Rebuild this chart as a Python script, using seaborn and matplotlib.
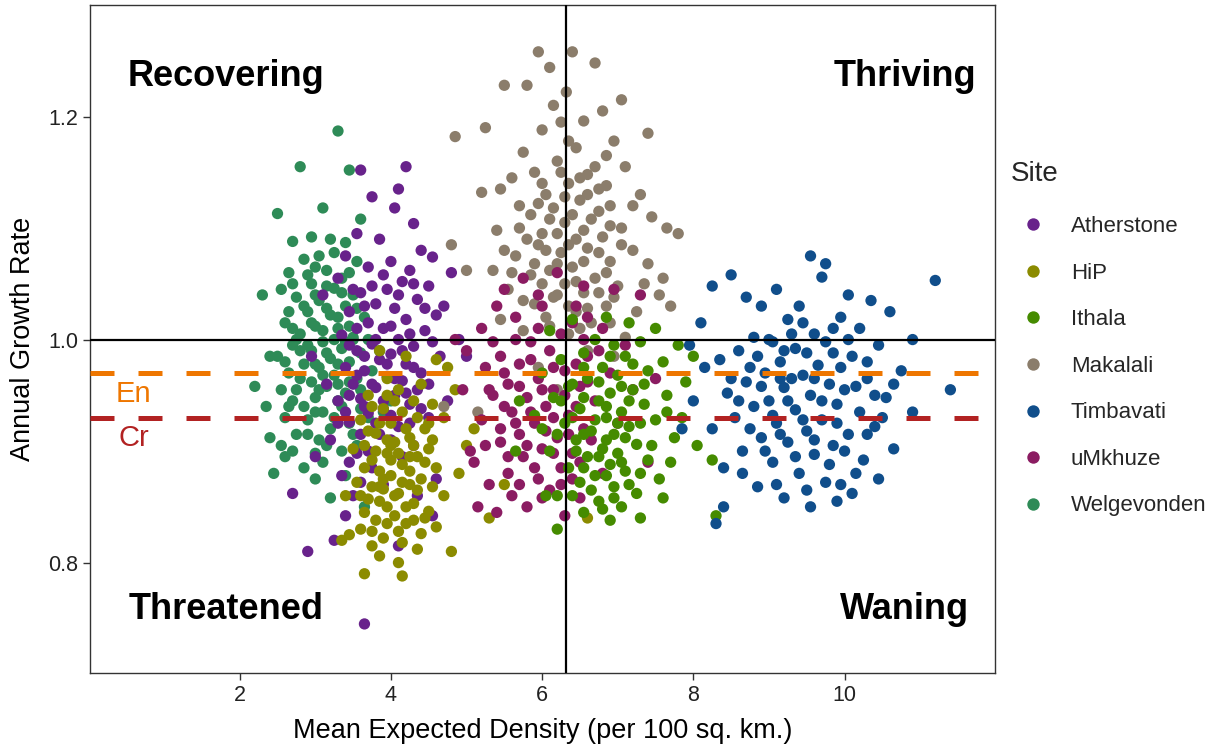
import matplotlib
matplotlib.use("Agg")
import matplotlib.pyplot as plt
import seaborn as sns
import pandas as pd

# ---------------- data ----------------
sites = ["Atherstone", "HiP", "Ithala", "Makalali", "Timbavati", "uMkhuze", "Welgevonden"]
site_colors = ["#68228B", "#8B8B00", "#458B00", "#8B7D6B", "#104E8B", "#8B1C62", "#2E8B57"]

welgevonden_pts = [(3.30,1.187),(2.80,1.155),(3.45,1.152),(2.50,1.113),(3.10,1.118),(3.60,1.108),(2.70,1.088),(2.95,1.092),(3.20,1.090),(3.40,1.087),(3.05,1.075),(2.85,1.072),(3.55,1.070),(2.65,1.060),(3.15,1.062),(3.35,1.055),(2.95,1.050),(3.25,1.046),(2.55,1.045),(3.50,1.040),(2.75,1.038),(3.05,1.035),(3.40,1.030),(2.90,1.025),(3.20,1.022),(3.65,1.020),(2.60,1.015),(3.00,1.012),(3.30,1.010),(2.80,1.005),(3.50,1.002),(3.10,0.998),(2.70,0.995),(3.35,0.992),(2.95,0.990),(3.60,0.988),(2.50,0.985),(3.20,0.983),(3.45,0.980),(2.85,0.978),(3.05,0.975),(3.75,0.972),(2.65,0.970),(3.25,0.968),(3.55,0.965),(2.95,0.962),(3.15,0.958),(2.75,0.955),(3.40,0.952),(3.00,0.948),(2.20,0.958),(3.30,0.945),(2.85,0.940),(3.60,0.938),(3.10,0.935),(2.40,0.912),(2.55,0.905),(2.90,0.928),(3.45,0.925),(3.20,0.920),(3.70,0.930),(2.75,0.915),(3.05,0.910),(2.60,0.895),(2.85,0.885),(3.35,0.900),(2.45,0.880),(3.10,0.890),(3.55,0.905),(3.00,0.875),(3.20,0.858),(3.40,0.878),(3.90,0.935),(4.00,0.945),(2.30,1.040),(2.40,0.985),(3.65,0.850),(3.30,0.960),(3.50,1.000),(2.70,1.010),
                   (3.00,1.065),(3.25,1.078),(2.90,1.058),(3.45,1.060),(3.15,1.048),(2.70,1.050),(3.35,1.042),(3.00,1.040),(2.85,1.030),(3.55,1.028),(3.15,1.028),(2.65,1.025),(3.30,1.020),(2.95,1.015),(3.45,1.012),(3.10,1.008),(2.75,1.000),(3.25,1.000),(3.40,0.998),(2.90,0.995),(3.15,0.988),(2.60,0.980),(3.30,0.978),(3.00,0.978),(2.80,0.965),(3.45,0.962),(3.10,0.968),(2.70,0.945),(3.35,0.940),(3.00,0.935),(2.60,0.930),(3.25,0.930),(2.90,0.915),(3.50,0.915),(3.15,0.905),(2.70,0.900),(3.00,0.898),(2.35,0.940),(2.55,0.955),(3.60,0.955),(3.85,0.990),(3.70,1.000),(2.65,0.940),(3.05,0.955),(2.80,0.990)]

atherstone_pts = [(3.60,1.152),(4.20,1.155),(3.75,1.128),(4.10,1.135),(4.05,1.118),(4.30,1.104),(4.80,1.060),(4.55,1.074),(3.55,1.095),(3.85,1.090),(4.40,1.080),(3.40,1.075),(4.00,1.070),(4.25,1.062),(3.70,1.065),(3.30,1.055),(4.15,1.052),(3.95,1.045),(4.50,1.048),(3.60,1.042),(4.35,1.036),(3.80,1.032),(4.05,1.028),(3.45,1.025),(4.60,1.022),(4.20,1.018),(3.70,1.015),(3.90,1.010),(4.45,1.008),(3.35,1.004),(4.10,1.000),(3.75,0.996),(4.30,0.994),(3.55,0.990),(4.00,0.987),(4.65,0.985),(3.85,0.982),(4.20,0.978),(3.40,0.975),(3.65,0.972),(4.40,0.970),(3.95,0.967),(4.15,0.963),(3.50,0.960),(3.80,0.957),(4.35,0.955),(4.05,0.950),(3.60,0.947),(3.30,0.945),(4.25,0.942),(3.90,0.938),(3.70,0.934),(4.50,0.930),(3.45,0.926),(4.10,0.922),(3.85,0.915),(3.20,0.910),(4.30,0.905),(3.55,0.898),(3.00,0.895),(3.75,0.885),(3.35,0.878),(4.60,0.875),(2.70,0.862),(3.50,0.860),(4.55,0.842),(3.25,0.820),(4.10,0.815),(2.90,0.810),(3.65,0.745),(4.90,1.000),(5.00,0.985),(4.75,0.945),(3.15,0.960),(2.95,0.985),(4.70,1.030),(3.10,1.040),
                  (3.50,1.045),(3.90,1.058),(4.30,1.050),(3.65,1.030),(4.10,1.040),(3.75,1.048),(4.45,1.028),(3.55,1.010),(4.00,1.012),(4.25,1.005),(3.80,1.000),(3.45,0.995),(4.55,0.998),(4.15,0.990),(3.65,0.985),(3.95,0.978),(4.30,0.975),(3.55,0.968),(4.05,0.965),(4.50,0.960),(3.75,0.960),(3.45,0.950),(4.20,0.952),(3.90,0.945),(3.65,0.940),(4.40,0.938),(4.00,0.932),(3.80,0.925),(4.25,0.925),(3.40,0.935),(3.60,0.915),(4.00,0.910),(3.30,0.925),(3.70,0.900),(4.15,0.895),(3.45,0.890),(3.90,0.870),(3.60,0.872),(4.35,0.860),(3.40,0.842)]

hip_pts = [(3.85,0.990),(4.20,0.985),(4.60,0.982),(4.75,0.975),(3.95,0.965),(4.40,0.960),(4.10,0.955),(3.70,0.950),(4.30,0.945),(4.55,0.942),(3.90,0.938),(4.15,0.935),(4.70,0.930),(3.60,0.928),(4.00,0.925),(4.45,0.920),(3.80,0.916),(4.25,0.912),(4.05,0.908),(3.65,0.905),(4.50,0.902),(3.95,0.898),(4.35,0.895),(3.75,0.892),(4.15,0.888),(4.60,0.885),(3.85,0.882),(4.00,0.878),(4.40,0.875),(3.55,0.872),(4.25,0.870),(3.90,0.866),(4.10,0.862),(4.70,0.860),(3.70,0.857),(4.30,0.853),(3.95,0.850),(4.50,0.846),(4.05,0.842),(3.80,0.838),(4.20,0.835),(3.60,0.830),(4.40,0.826),(3.45,0.825),(3.90,0.822),(4.15,0.818),(3.35,0.820),(3.75,0.815),(4.35,0.812),(3.85,0.806),(4.10,0.800),(3.65,0.790),(4.15,0.788),(4.60,0.832),(4.90,0.880),(5.00,0.905),(5.30,0.840),(5.50,0.870),(4.85,0.955),(3.50,0.902),(6.60,0.840),(5.10,0.920),(4.80,0.810),(3.40,0.860),
           (3.75,0.940),(4.05,0.945),(4.35,0.930),(3.85,0.925),(4.20,0.920),(4.55,0.910),(3.70,0.918),(3.95,0.910),(4.30,0.905),(4.10,0.898),(3.80,0.900),(4.45,0.890),(4.00,0.892),(3.65,0.885),(4.25,0.882),(3.90,0.875),(4.15,0.872),(4.55,0.868),(3.75,0.868),(4.05,0.860),(4.35,0.865),(3.85,0.855),(4.20,0.850),(3.65,0.845),(4.45,0.840),(3.95,0.835),(4.10,0.828),(3.75,0.828),(4.30,0.838),(3.85,0.868),(4.00,0.905),(4.25,0.895),(3.60,0.860),(4.50,0.925),(3.95,0.950)]

makalali_pts = [(5.95,1.258),(6.40,1.258),(6.10,1.244),(6.70,1.248),(5.50,1.228),(5.80,1.228),(6.32,1.222),(7.05,1.215),(6.15,1.210),(6.80,1.205),(5.25,1.190),(4.85,1.182),(6.55,1.196),(7.40,1.185),(6.00,1.188),(6.95,1.178),(6.45,1.172),(5.75,1.168),(6.85,1.165),(6.20,1.160),(5.90,1.150),(7.10,1.155),(6.60,1.148),(6.35,1.140),(5.60,1.145),(6.75,1.135),(6.05,1.130),(7.30,1.130),(5.45,1.135),(5.20,1.132),(6.50,1.125),(6.90,1.120),(6.15,1.118),(5.85,1.112),(6.65,1.108),(7.45,1.110),(6.30,1.105),(5.70,1.100),(7.05,1.100),(6.00,1.095),(6.80,1.092),(6.45,1.090),(5.40,1.098),(7.65,1.100),(7.80,1.095),(5.95,1.085),(6.60,1.082),(6.25,1.078),(7.20,1.080),(5.65,1.075),(6.90,1.070),(6.40,1.065),(6.10,1.062),(7.40,1.068),(5.85,1.058),(6.70,1.055),(6.30,1.050),(7.00,1.048),(5.55,1.045),(6.55,1.042),(6.15,1.038),(7.55,1.040),(5.90,1.032),(6.85,1.030),(6.45,1.025),(7.25,1.025),(6.05,1.020),(5.45,1.018),(6.65,1.015),(7.70,1.030),(6.35,1.005),(5.75,1.008),(7.10,1.002),(6.95,0.985),(5.95,0.975),(6.60,0.990),(5.00,1.062),(4.80,1.085),(5.35,1.062),(4.70,0.940),(5.15,0.935),(6.20,0.955),(7.60,1.055),(7.35,1.050),
                (6.00,1.140),(6.25,1.150),(6.50,1.145),(6.70,1.155),(5.95,1.122),(6.30,1.128),(6.60,1.130),(6.85,1.138),(6.10,1.108),(6.40,1.112),(6.75,1.115),(5.80,1.090),(6.20,1.095),(6.55,1.098),(6.90,1.102),(6.05,1.080),(6.35,1.085),(6.75,1.078),(7.05,1.085),(5.90,1.068),(6.20,1.068),(6.55,1.070),(6.85,1.060),(6.00,1.050),(6.45,1.052),(6.75,1.042),(6.20,1.040),(6.95,1.038),(5.75,1.035),(6.35,1.030),(6.60,1.028),(6.10,1.012),(6.50,1.010),(6.90,1.015),(5.60,1.060),(5.50,1.080),(6.25,1.195),(6.35,1.178),(5.70,1.120),(7.20,1.120)]

umkhuze_pts = [(4.85,1.000),(5.00,0.990),(5.20,1.010),(5.50,1.045),(5.35,0.998),(5.75,1.055),(6.20,1.060),(6.55,1.048),(6.95,1.045),(7.30,1.040),(6.00,1.030),(5.65,1.020),(6.40,1.015),(6.80,1.010),(7.10,0.995),(5.85,0.998),(5.45,0.985),(6.10,0.990),(6.60,0.985),(5.25,0.975),(5.70,0.978),(6.30,0.972),(6.90,0.970),(5.95,0.965),(5.55,0.960),(6.50,0.958),(6.15,0.955),(5.35,0.950),(5.80,0.948),(6.70,0.945),(6.05,0.940),(5.60,0.935),(6.35,0.932),(5.20,0.928),(5.90,0.925),(6.55,0.920),(7.00,0.925),(5.70,0.915),(6.20,0.912),(5.45,0.908),(6.00,0.902),(6.40,0.898),(5.75,0.895),(5.10,0.890),(6.25,0.885),(5.55,0.880),(5.95,0.875),(6.80,0.880),(5.30,0.870),(6.10,0.865),(5.60,0.860),(7.40,0.890),(6.50,0.858),(5.80,0.850),(6.30,0.842),(5.40,0.845),(5.05,0.900),(6.65,0.910),(7.20,0.955),(7.50,0.965),(4.95,0.955),(5.15,0.850),(6.75,0.990),(6.45,1.030),
               (5.65,1.000),(5.95,1.010),(6.25,1.005),(6.55,1.000),(5.50,0.970),(5.85,0.982),(6.15,0.975),(6.45,0.978),(5.70,0.958),(6.00,0.955),(6.30,0.950),(6.60,0.962),(5.50,0.940),(5.85,0.935),(6.15,0.930),(6.45,0.940),(5.65,0.925),(6.05,0.918),(6.35,0.915),(5.80,0.905),(6.15,0.898),(5.55,0.895),(6.50,0.890),(5.90,0.885),(6.25,0.870),(5.70,0.870),(6.00,0.858),(6.40,0.875),(5.45,0.920),(5.30,0.955),(5.40,1.030),(6.60,1.020),(5.95,1.040),(5.25,0.905)]

ithala_pts = [(6.85,1.020),(6.40,1.018),(7.15,1.015),(7.50,1.010),(6.10,1.008),(6.70,1.000),(7.30,0.998),(6.95,0.995),(7.80,0.995),(6.55,0.988),(7.10,0.985),(6.25,0.982),(7.60,0.980),(6.80,0.975),(7.40,0.972),(6.00,0.970),(7.00,0.968),(6.60,0.965),(7.90,0.962),(6.35,0.958),(7.20,0.955),(6.90,0.952),(7.65,0.950),(6.15,0.948),(6.75,0.945),(7.35,0.942),(6.50,0.938),(7.05,0.935),(5.90,0.932),(6.85,0.930),(7.50,0.928),(6.30,0.925),(7.15,0.922),(6.65,0.918),(6.95,0.915),(7.75,0.912),(6.45,0.910),(7.25,0.906),(6.80,0.902),(6.10,0.900),(7.00,0.898),(6.60,0.895),(7.40,0.892),(6.90,0.888),(6.35,0.885),(7.10,0.882),(6.70,0.878),(7.55,0.875),(6.50,0.872),(6.95,0.868),(7.25,0.862),(6.20,0.860),(6.75,0.855),(7.05,0.850),(6.55,0.845),(7.30,0.840),(6.90,0.838),(6.20,0.830),(8.05,0.905),(8.25,0.892),(7.85,0.930),(5.70,0.945),(8.30,0.842),(7.60,0.858),(5.65,0.900),(8.00,0.985),(6.05,0.860),
              (6.55,0.975),(6.90,0.985),(7.20,0.978),(6.40,0.960),(6.75,0.962),(7.05,0.958),(7.35,0.960),(6.55,0.948),(6.85,0.940),(7.15,0.945),(6.40,0.930),(6.70,0.928),(7.00,0.925),(7.30,0.925),(6.55,0.915),(6.85,0.910),(7.10,0.912),(6.45,0.900),(6.75,0.895),(7.05,0.890),(7.30,0.880),(6.55,0.885),(6.85,0.878),(6.65,0.865),(6.95,0.858),(7.15,0.870),(6.40,0.860),(6.80,0.848),(7.45,0.905),(7.65,0.935),(7.70,0.890),(6.25,0.945),(6.20,0.915),(6.00,0.920)]

timbavati_pts = [(9.55,1.075),(9.75,1.068),(11.20,1.053),(8.25,1.048),(8.50,1.058),(9.70,1.056),(9.10,1.045),(8.70,1.038),(10.05,1.040),(10.35,1.035),(9.40,1.030),(10.60,1.025),(8.90,1.030),(9.95,1.020),(9.25,1.018),(8.10,1.015),(10.20,1.010),(9.60,1.005),(8.80,1.002),(9.05,0.998),(10.45,0.995),(9.35,0.992),(8.60,0.990),(9.85,0.988),(10.10,0.985),(8.35,0.982),(9.15,0.980),(9.65,0.977),(10.75,0.972),(8.95,0.970),(9.45,0.968),(10.30,0.965),(8.70,0.962),(9.80,0.960),(9.20,0.957),(10.00,0.955),(11.40,0.955),(8.45,0.952),(9.55,0.950),(10.55,0.948),(9.00,0.945),(9.90,0.942),(8.80,0.940),(9.35,0.937),(10.20,0.935),(10.90,0.935),(8.55,0.930),(9.70,0.928),(9.10,0.925),(10.40,0.922),(8.25,0.920),(9.50,0.918),(10.05,0.915),(8.90,0.912),(9.25,0.908),(9.85,0.905),(10.65,0.902),(8.65,0.900),(9.60,0.897),(10.25,0.892),(9.05,0.890),(8.40,0.885),(9.40,0.880),(10.45,0.875),(9.75,0.872),(8.85,0.868),(10.10,0.862),(9.20,0.858),(9.90,0.855),(8.40,0.850),(8.30,0.835),(9.55,0.850),(8.00,0.945),(7.85,0.920),(8.15,0.975),(10.90,1.000),(7.95,0.995),(8.75,0.975),(9.30,0.965),
                 (9.00,1.000),(9.30,1.005),(9.75,0.998),(10.05,1.000),(8.85,0.985),(9.20,0.990),(9.50,0.988),(9.95,0.975),(10.30,0.980),(8.90,0.958),(9.15,0.965),(9.60,0.965),(10.15,0.958),(8.60,0.945),(9.25,0.945),(9.70,0.945),(10.40,0.950),(9.05,0.932),(9.45,0.928),(9.90,0.925),(10.30,0.915),(8.75,0.920),(9.15,0.915),(9.60,0.910),(10.00,0.900),(8.95,0.900),(9.35,0.895),(9.80,0.888),(10.15,0.880),(8.65,0.880),(9.10,0.870),(9.50,0.865),(9.95,0.870),(10.50,0.930),(10.65,0.960),(8.50,0.965),(9.85,1.010),(9.45,1.015)]

mean_density = 6.31
growth_threshold = 1.0
endangered_line = 0.97
critical_line = 0.93
quadrant_labels = ["Recovering", "Thriving", "Threatened", "Waning"]
x_ticks = [2, 4, 6, 8, 10]
y_ticks = [0.8, 1.0, 1.2]

# ---------------- build table ----------------
site_points = {
    "Welgevonden": welgevonden_pts, "Atherstone": atherstone_pts, "HiP": hip_pts,
    "Makalali": makalali_pts, "uMkhuze": umkhuze_pts, "Ithala": ithala_pts,
    "Timbavati": timbavati_pts,
}
rows = []
for name, pts in site_points.items():
    for x, y in pts:
        rows.append({"Site": name, "density": x, "growth": y})
df = pd.DataFrame(rows)

# ---------------- plot ----------------
sns.set_theme(style="white")
plt.rcParams["font.family"] = ["Liberation Sans", "DejaVu Sans"]

fig = plt.figure(figsize=(12.25, 7.47), dpi=100)
ax = fig.add_axes([90/1225, 1-673/747, (995-90)/1225, (673-5)/747])

sns.scatterplot(data=df, x="density", y="growth", hue="Site", hue_order=sites,
                palette=dict(zip(sites, site_colors)), s=66, linewidth=0,
                alpha=1.0, ax=ax, legend=True, zorder=2)

ax.axvline(mean_density, color="black", lw=1.6, zorder=3)
ax.axhline(growth_threshold, color="black", lw=1.6, zorder=3)
ax.axhline(endangered_line, color="#EE7600", lw=3.6, dashes=(4.8, 4.8), zorder=4)
ax.axhline(critical_line, color="#B22222", lw=3.6, dashes=(4.8, 4.8), zorder=4)

ax.text(0.6, 0.951, "En", color="#EE7600", fontsize=21, ha="center", va="center", zorder=5)
ax.text(0.6, 0.912, "Cr", color="#B22222", fontsize=21, ha="center", va="center", zorder=5)

qpos = [(1.82, 1.236), (10.8, 1.236), (1.82, 0.758), (10.8, 0.758)]
for lbl, (qx, qy) in zip(quadrant_labels, qpos):
    ax.text(qx, qy, lbl, fontsize=26, fontweight="bold", ha="center", va="center", color="black", zorder=5)

ax.set_xlim(0.02, 11.99)
ax.set_ylim(0.701, 1.300)
ax.set_xticks(x_ticks)
ax.set_xticklabels([str(t) for t in x_ticks])
ax.set_yticks(y_ticks)
ax.set_yticklabels([f"{t:.1f}" for t in y_ticks])
ax.tick_params(axis="both", direction="out", length=5, width=1, color="#333333",
               labelsize=15.5, labelcolor="#222222", bottom=True, left=True)
ax.set_xlabel("Mean Expected Density (per 100 sq. km.)", fontsize=19.5, color="black", labelpad=9)
ax.set_ylabel("Annual Growth Rate", fontsize=19.5, color="black", labelpad=9)
for sp in ax.spines.values():
    sp.set_color("#333333")
    sp.set_linewidth(1.0)
ax.grid(False)

handles, labels = ax.get_legend_handles_labels()
ax.legend_.remove()
leg = fig.legend(handles, labels, title="Site", loc="upper left",
                 bbox_to_anchor=(1002/1225, 1-152/747), frameon=False,
                 fontsize=16, title_fontsize=20, labelspacing=1.15,
                 handletextpad=0.7, markerscale=1.1, borderaxespad=0)
leg._legend_box.align = "left"
leg._legend_box.sep = 21

fig.savefig("out.png", dpi=100)
